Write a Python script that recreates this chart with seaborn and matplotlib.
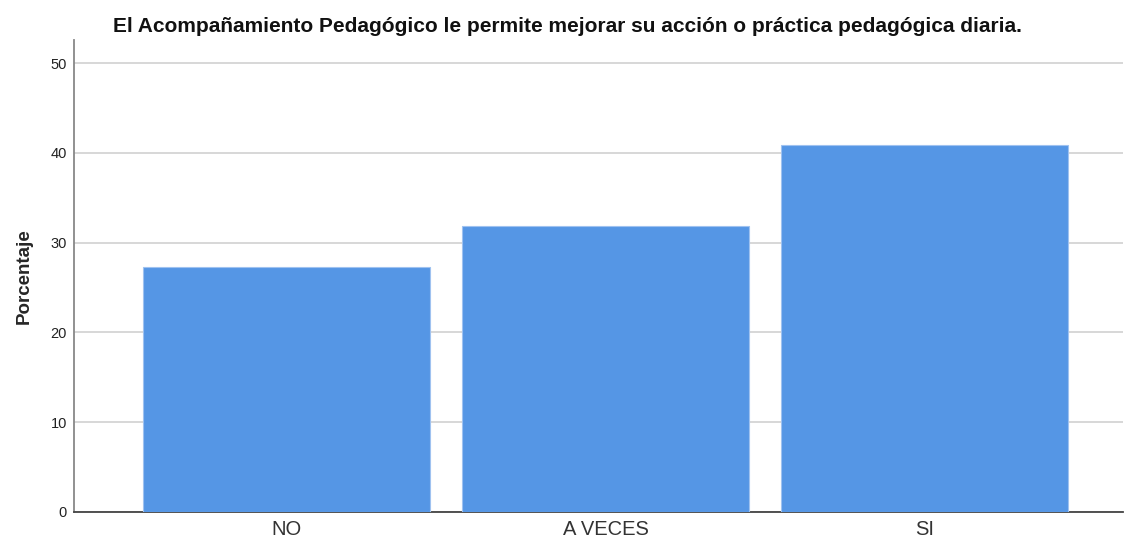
import pandas as pd
import matplotlib.pyplot as plt
import seaborn as sns

# Datos (porcentajes, n=22)
categorias = ["NO", "A VECES", "SI"]
porcentajes = [27.27, 31.82, 40.91]

df = pd.DataFrame({"respuesta": categorias, "porcentaje": porcentajes})

sns.set_style("white")
plt.rcParams["font.family"] = ["Liberation Sans", "DejaVu Sans"]

fig = plt.figure(figsize=(11.25, 5.38), dpi=100)
ax = fig.add_axes([0.0658, 0.0489, 0.932, 0.8768])

sns.barplot(data=df, x="respuesta", y="porcentaje", color="#5596e5",
            saturation=1, width=0.9, edgecolor="#9fc2f0", linewidth=0.8,
            zorder=3, ax=ax)

ax.set_xlim(-0.667, 2.62)
ax.set_ylim(0, 52.6)
ax.set_yticks([0, 10, 20, 30, 40, 50])
ax.yaxis.grid(True, color="#d4d4d4", linewidth=1.3, zorder=0)
ax.set_axisbelow(True)

for s in ["top", "right"]:
    ax.spines[s].set_visible(False)
ax.spines["left"].set_color("#888888")
ax.spines["left"].set_linewidth(1.3)
ax.spines["bottom"].set_color("#444444")
ax.spines["bottom"].set_linewidth(1.3)

ax.tick_params(axis="y", length=0, labelsize=10.5, pad=5, labelcolor="#222222")
ax.tick_params(axis="x", length=0, labelsize=14.5, pad=6, labelcolor="#333333")
ax.set_xlabel("")
ax.set_ylabel("Porcentaje", fontsize=13.5, fontweight="bold")
ax.yaxis.set_label_coords(-0.039, 0.5)

fig.text(0.504, 0.951, "El Acompañamiento Pedagógico le permite mejorar su acción o práctica pedagógica diaria.",
         ha="center", va="center", fontsize=15, fontweight="bold", color="#111111")

fig.savefig("out.png", dpi=100, facecolor="white")
